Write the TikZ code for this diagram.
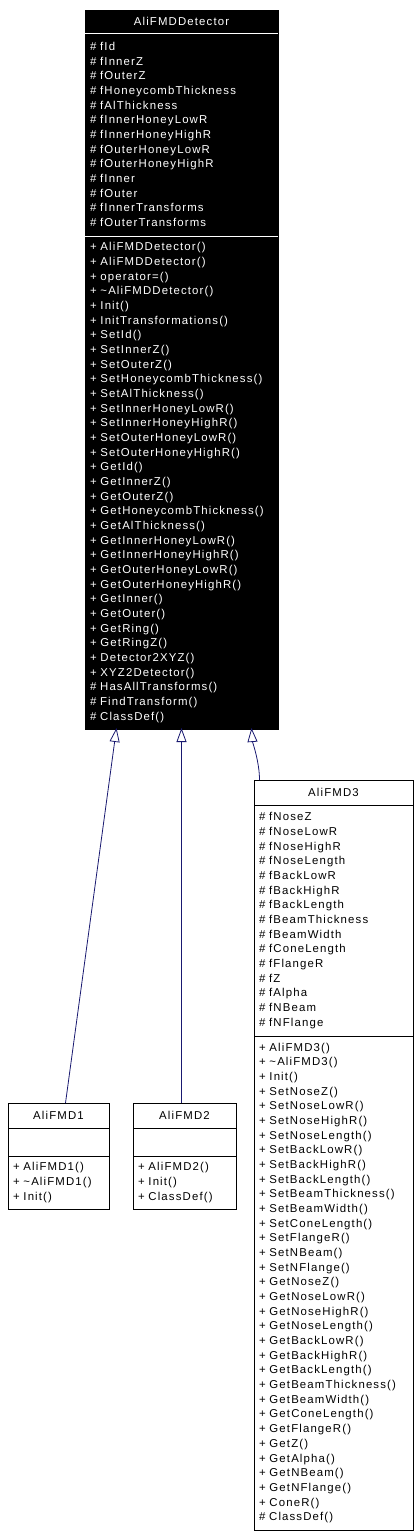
\documentclass[tikz,border=0pt]{standalone}
\usepackage{fontspec}
\setmainfont{Liberation Sans}[LetterSpace=10]
\usetikzlibrary{arrows.meta}
\definecolor{edgeblue}{HTML}{191970}

\begin{document}
\begin{tikzpicture}[x=1pt, y=-1pt,
    font=\fontsize{11.4}{14.67}\selectfont,
    part/.style={draw, rectangle, anchor=north west, inner sep=0pt, outer sep=0pt, line width=0.8pt},
    title/.style={part, align=center},
    list/.style={part, inner xsep=5pt, text width=#1, align=left},
    dark/.style={fill=black, draw=black, text=white},
    inherit/.style={edgeblue, line width=0.8pt, -{Triangle[open, length=14pt, width=10pt]}}]
  \useasboundingbox (0,0) rectangle (418,1538);

  \node[title, dark, minimum width=193, minimum height=23] (det) at (85,10) {AliFMDDetector};
  \node[list=183, dark, minimum height=203] (detattr) at (det.south west)
    {\#~fId\\ \#~fInnerZ\\ \#~fOuterZ\\ \#~fHoneycombThickness\\ \#~fAlThickness\\
     \#~fInnerHoneyLowR\\ \#~fInnerHoneyHighR\\ \#~fOuterHoneyLowR\\ \#~fOuterHoneyHighR\\
     \#~fInner\\ \#~fOuter\\ \#~fInnerTransforms\\ \#~fOuterTransforms};
  \node[list=183, dark, minimum height=493] (detops) at (detattr.south west)
    {+~AliFMDDetector()\\ +~AliFMDDetector()\\ +~operator=()\\ +~\textasciitilde AliFMDDetector()\\
     +~Init()\\ +~InitTransformations()\\ +~SetId()\\ +~SetInnerZ()\\ +~SetOuterZ()\\
     +~SetHoneycombThickness()\\ +~SetAlThickness()\\ +~SetInnerHoneyLowR()\\
     +~SetInnerHoneyHighR()\\ +~SetOuterHoneyLowR()\\ +~SetOuterHoneyHighR()\\ +~GetId()\\
     +~GetInnerZ()\\ +~GetOuterZ()\\ +~GetHoneycombThickness()\\ +~GetAlThickness()\\
     +~GetInnerHoneyLowR()\\ +~GetInnerHoneyHighR()\\ +~GetOuterHoneyLowR()\\
     +~GetOuterHoneyHighR()\\ +~GetInner()\\ +~GetOuter()\\ +~GetRing()\\ +~GetRingZ()\\
     +~Detector2XYZ()\\ +~XYZ2Detector()\\ \#~HasAllTransforms()\\ \#~FindTransform()\\
     \#~ClassDef()};
  \draw[white, line width=0.8pt] (detattr.north west) -- (detattr.north east);
  \draw[white, line width=0.8pt] (detops.north west) -- (detops.north east);

  \node[title, minimum width=101, minimum height=25] (fmdone) at (8,1103) {AliFMD1};
  \node[list=91, minimum height=28] (fmdoneattr) at (fmdone.south west) {};
  \node[list=91, minimum height=53] (fmdoneops) at (fmdoneattr.south west)
    {+~AliFMD1()\\ +~\textasciitilde AliFMD1()\\ +~Init()};

  \node[title, minimum width=103, minimum height=25] (fmdtwo) at (133,1103) {AliFMD2};
  \node[list=93, minimum height=28] (fmdtwoattr) at (fmdtwo.south west) {};
  \node[list=93, minimum height=53] (fmdtwoops) at (fmdtwoattr.south west)
    {+~AliFMD2()\\ +~Init()\\ +~ClassDef()};

  \node[title, minimum width=159, minimum height=25] (fmdthree) at (254,780) {AliFMD3};
  \node[list=149, minimum height=231] (fmdthreeattr) at (fmdthree.south west)
    {\#~fNoseZ\\ \#~fNoseLowR\\ \#~fNoseHighR\\ \#~fNoseLength\\ \#~fBackLowR\\
     \#~fBackHighR\\ \#~fBackLength\\ \#~fBeamThickness\\ \#~fBeamWidth\\ \#~fConeLength\\
     \#~fFlangeR\\ \#~fZ\\ \#~fAlpha\\ \#~fNBeam\\ \#~fNFlange};
  \node[list=149, minimum height=494] (fmdthreeops) at (fmdthreeattr.south west)
    {+~AliFMD3()\\ +~\textasciitilde AliFMD3()\\ +~Init()\\ +~SetNoseZ()\\ +~SetNoseLowR()\\
     +~SetNoseHighR()\\ +~SetNoseLength()\\ +~SetBackLowR()\\ +~SetBackHighR()\\
     +~SetBackLength()\\ +~SetBeamThickness()\\ +~SetBeamWidth()\\ +~SetConeLength()\\
     +~SetFlangeR()\\ +~SetNBeam()\\ +~SetNFlange()\\ +~GetNoseZ()\\ +~GetNoseLowR()\\
     +~GetNoseHighR()\\ +~GetNoseLength()\\ +~GetBackLowR()\\ +~GetBackHighR()\\
     +~GetBackLength()\\ +~GetBeamThickness()\\ +~GetBeamWidth()\\ +~GetConeLength()\\
     +~GetFlangeR()\\ +~GetZ()\\ +~GetAlpha()\\ +~GetNBeam()\\ +~GetNFlange()\\
     +~ConeR()\\ \#~ClassDef()};

  \draw[inherit] ([xshift=7]fmdone.north) -- ([xshift=-65,yshift=1]detops.south);
  \draw[inherit] ([xshift=-3]fmdtwo.north) -- ([yshift=1]detops.south);
  \draw[inherit] ([xshift=-74]fmdthree.north) .. controls +(0,-18) and +(1,14) .. ([xshift=70,yshift=1]detops.south);
\end{tikzpicture}
\end{document}
